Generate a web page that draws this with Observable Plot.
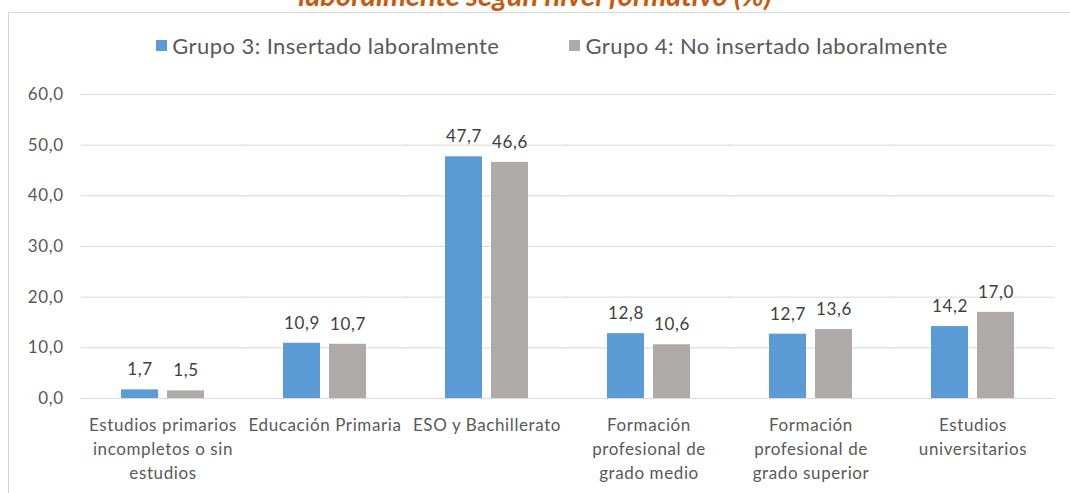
<!DOCTYPE html>
<html>
<head>
<meta charset="utf-8">
<script src="https://cdn.jsdelivr.net/npm/d3@7"></script>
<script src="https://cdn.jsdelivr.net/npm/@observablehq/plot@0.6"></script>
<style>
  html, body { margin: 0; padding: 0; background: #fff; }
  #wrap { position: relative; width: 1070px; height: 493px; overflow: hidden; font-family: Lato, "Open Sans", sans-serif; }
  #frame { position: absolute; left: 8px; top: 12px; width: 1100px; height: 500px; border: 1px solid #d9d9d9; box-sizing: border-box; }
  #title { position: absolute; left: 0; width: 1070px; top: -22px; line-height: 34px; text-align: center; color: #c55a11; font-weight: bold; font-style: italic; font-size: 29px; white-space: nowrap; }
  #legend { position: absolute; top: 32px; left: 17px; width: 1070px; display: flex; justify-content: center; gap: 70px; font-size: 22px; letter-spacing: 0.45px; color: #595959; }
  .li { display: flex; align-items: center; }
  .sw { width: 11px; height: 11px; margin-right: 5px; display: inline-block; }
  #chart { position: absolute; left: 0; top: 75px; }
</style>
</head>
<body>
<div id="wrap">
  <div id="frame"></div>
  <div id="title"></div>
  <div id="legend"></div>
  <div id="chart"></div>
</div>
<script>
const title = "laboralmente según nivel formativo (%)";
const categories = [
  "Estudios primarios\nincompletos o sin\nestudios",
  "Educación Primaria",
  "ESO y Bachillerato",
  "Formación\nprofesional de\ngrado medio",
  "Formación\nprofesional de\ngrado superior",
  "Estudios\nuniversitarios"
];
const seriesNames = ["Grupo 3: Insertado laboralmente", "Grupo 4: No insertado laboralmente"];
const seriesColors = ["#5b9bd5", "#aeaaaa"];
const grupo3 = [1.7, 10.9, 47.7, 12.8, 12.7, 14.2];
const grupo4 = [1.5, 10.7, 46.6, 10.6, 13.6, 17.0];
const yTicks = [0, 10, 20, 30, 40, 50, 60];

const data = [];
categories.forEach((c, i) => {
  data.push({cat: c, serie: seriesNames[0], value: grupo3[i]});
  data.push({cat: c, serie: seriesNames[1], value: grupo4[i]});
});
const fmt = d => d.toFixed(1).replace(".", ",");

document.getElementById("title").textContent = title;
const leg = document.getElementById("legend");
seriesNames.forEach((s, i) => {
  const el = document.createElement("div");
  el.className = "li";
  el.innerHTML = `<span class="sw" style="background:${seriesColors[i]}"></span><span>${s}</span>`;
  leg.appendChild(el);
});

const W = 1070, mL = 80, mR = 15;
const pIn = 0.49, pOut = 0.245;
const step = (W - mL - mR) / (categories.length - pIn + 2 * pOut);
const half = step * pIn / 2;

const chart = Plot.plot({
  width: W,
  height: 418,
  marginLeft: mL,
  marginRight: mR,
  marginTop: 19,
  marginBottom: 95,
  style: { fontFamily: "Lato, 'Open Sans', sans-serif", fontSize: "17px", letterSpacing: "0.6px", color: "#595959", background: "transparent" },
  fx: { domain: categories, paddingInner: pIn, paddingOuter: pOut, label: null },
  x: { domain: seriesNames, paddingInner: 0.2, paddingOuter: 0, axis: null },
  y: { domain: [0, 60], label: null },
  color: { domain: seriesNames, range: seriesColors },
  marks: [
    Plot.ruleY(yTicks, { stroke: "#d9d9d9", strokeWidth: 1, insetLeft: -half - 0.5, insetRight: -half - 0.5 }),
    Plot.axisY({ ticks: yTicks, tickSize: 0, tickPadding: 18 + half, tickFormat: fmt, fontSize: 17, label: null }),
    Plot.axisFx({ anchor: "bottom", tickSize: 0, tickPadding: 15, lineHeight: 1.42, fontSize: 17, label: null }),
    Plot.barY(data, { fx: "cat", x: "serie", y: "value", fill: "serie" }),
    Plot.text(data, { fx: "cat", x: "serie", y: "value", text: d => fmt(d.value), dy: -20, fontSize: 17, fill: "#404040" })
  ]
});
document.getElementById("chart").appendChild(chart);
</script>
</body>
</html>
